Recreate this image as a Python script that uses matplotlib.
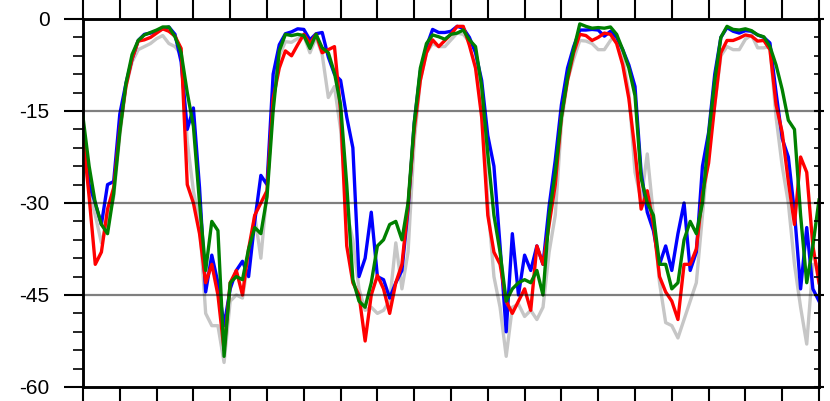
import numpy as np
import matplotlib
matplotlib.use("Agg")
import matplotlib.pyplot as plt
from matplotlib.ticker import MultipleLocator, NullFormatter

hours = list(range(0, 121))

blue = [-18, -27, -30, -33.5, -27, -26.5, -15.5, -10.5, -6.5, -3.5,
        -2.5, -2.3, -2, -1.6, -1.3, -2.5, -7, -18, -14.5, -27.5,
        -44.5, -38.5, -43, -50, -44, -41, -39.5, -42, -33, -25.5,
        -27, -9, -4.2, -2.4, -2.1, -1.6, -1.7, -3.4, -2.4, -2.2,
        -6.2, -9, -10, -16, -21, -42, -39, -31.5, -42, -42.5,
        -45.5, -43, -41, -31, -17, -8.5, -4.5, -1.7, -2.2, -2.2,
        -2, -1.2, -1.5, -3, -5.5, -10, -19, -24, -37, -51,
        -35, -45, -38.5, -41, -37, -40, -30.5, -23, -14, -8,
        -4.5, -1.8, -1.8, -1.7, -1.8, -2.8, -2, -3, -5, -7.5,
        -11, -25, -31.5, -34.5, -40, -37, -41, -35, -30, -41,
        -38, -24, -18.5, -9, -3, -1.4, -2, -2.3, -1.9, -2,
        -2.6, -3, -3.9, -12, -19.5, -22.5, -31.5, -44, -34, -44,
        -46]

red = [-19, -29, -40, -38, -31, -27.5, -18, -11, -6.5, -3.6,
       -3.4, -3, -2.3, -1.6, -2, -2.8, -4.8, -27, -30, -35,
       -43, -40, -45, -54, -43, -41, -45, -37.5, -32, -30,
       -28, -13, -8, -5.2, -6, -4.2, -2.5, -4, -2.5, -5.5,
       -5, -4.5, -15, -37, -43, -45, -52.5, -45, -41.8, -44,
       -48, -43, -40, -30.5, -18, -10, -5.5, -3.4, -4.5, -3.5,
       -2.5, -1.2, -1.2, -4.3, -8, -16, -32, -38, -40, -46,
       -48, -46, -44, -47.5, -37, -40, -33.5, -27, -16, -10,
       -5.5, -2.5, -2.7, -3.5, -3, -2.3, -2.5, -4, -7.5, -13,
       -21.5, -31, -28, -33.5, -42, -44.5, -46, -49, -40, -40,
       -37.5, -28.5, -23.5, -14, -5.5, -3.5, -3.5, -3.1, -2.6, -2.8,
       -3.6, -3.5, -5, -14, -18.5, -26.5, -33.5, -22.5, -25, -37,
       -43]

green = [-16, -24, -30, -33.5, -35, -28.5, -18.5, -10.5, -5.8, -3.5,
         -2.6, -2.2, -1.8, -1.3, -1.3, -2.9, -5.5, -12, -17.5, -30,
         -41, -33, -34.5, -55, -43, -42, -42.5, -37.5, -34, -35,
         -29, -15, -5.2, -2.5, -2.7, -2.5, -2.7, -4.8, -2.5, -4.7,
         -5.5, -8.8, -14, -27, -42.5, -46, -47, -43, -37, -36,
         -33.5, -33, -36, -30, -17, -8, -4, -2.6, -2.9, -3.3,
         -2.5, -2.3, -1.8, -3.4, -4.5, -11, -22, -32, -38, -46,
         -44, -43, -42.5, -43, -41, -45, -32, -25, -16, -9.5,
         -5, -0.8, -1.2, -1.5, -1.4, -1.5, -1.3, -2.5, -5, -8,
         -12.5, -26, -30, -32, -40, -40, -44, -43, -36, -33,
         -35, -30, -19, -10, -3, -1.2, -1.7, -1.8, -1.6, -1.9,
         -2.6, -2.9, -4.5, -7.5, -11.5, -16.5, -18, -32, -43, -37,
         -29.5]

gray = [-20, -28, -32, -36.5, -33, -29, -19, -11, -7, -5,
        -4.5, -4, -3.2, -2.7, -4, -4.5, -5.8, -20, -28, -33,
        -48, -50, -50, -56, -46, -45, -45.5, -39, -32, -39,
        -28, -11.5, -6, -3.7, -3.8, -3.2, -2.7, -5.5, -3, -5.8,
        -12.8, -11, -18, -31.5, -36, -44, -47.5, -47, -48, -47.5,
        -46, -36.5, -44, -38, -20, -10, -5.5, -4, -4.5, -4.5,
        -3.4, -2.3, -2.5, -3.7, -5, -13, -30, -42, -47, -55,
        -47, -46.5, -48.5, -47.5, -49, -47, -38, -32, -17, -10,
        -6.5, -3.5, -3.6, -4, -5, -5, -3.5, -2.5, -6.3, -12,
        -25, -29.5, -22, -32, -43, -49.5, -50, -52, -49, -46,
        -43, -32, -21, -14, -6, -4.5, -5, -5, -3.3, -2.6,
        -4.7, -4.7, -4.5, -16, -24, -30, -40, -47, -53, -40,
        -40]

ytick_vals = [0, -15, -30, -45, -60]
ytick_labels = ["0", "-15", "-30", "-45", "-60"]

fig = plt.figure(figsize=(8.3, 4.01), dpi=100)
ax = fig.add_axes([83/830, 14/401, (819-83)/830, (387-19)/401])

lw = 2.4
ax.plot(hours, gray, color="#c6c6c6", lw=lw, solid_joinstyle="round", zorder=2)
ax.plot(hours, blue, color="#0000ff", lw=lw, solid_joinstyle="round", zorder=3)
ax.plot(hours, red, color="#ff0000", lw=lw, solid_joinstyle="round", zorder=4)
ax.plot(hours, green, color="#008000", lw=lw, solid_joinstyle="round", zorder=5)

for yv in [-15, -30, -45]:
    ax.axhline(yv, color="black", alpha=0.5, lw=1.6, zorder=6)

ax.set_xlim(0, 120)
ax.set_ylim(-60, 0)

ax.set_yticks(ytick_vals)
ax.set_yticklabels(ytick_labels, fontsize=15, family="Liberation Sans")
ax.yaxis.set_minor_locator(MultipleLocator(3))
ax.xaxis.set_major_locator(MultipleLocator(6))
ax.xaxis.set_major_formatter(NullFormatter())

ax.tick_params(axis="y", which="major", direction="out", length=14, width=1.5,
               left=True, right=False, pad=10)
ax.tick_params(axis="y", which="minor", direction="out", length=7.5, width=1.2,
               left=True, right=False)
ax.tick_params(axis="x", which="major", direction="out", length=15, width=1.5,
               top=True, bottom=True, labelbottom=False, labeltop=False)
ax.tick_params(axis="x", which="minor", bottom=False, top=False)

axr = ax.twinx()
axr.set_ylim(-60, 0)
axr.set_yticks(ytick_vals)
axr.yaxis.set_minor_locator(MultipleLocator(3))
axr.tick_params(axis="y", which="major", direction="inout", length=7, width=1.5,
                labelright=False)
axr.tick_params(axis="y", which="minor", direction="in", length=3.5, width=1.2)

for a in (ax, axr):
    for s in a.spines.values():
        s.set_linewidth(1.8)

fig.savefig("out.png", dpi=100)
